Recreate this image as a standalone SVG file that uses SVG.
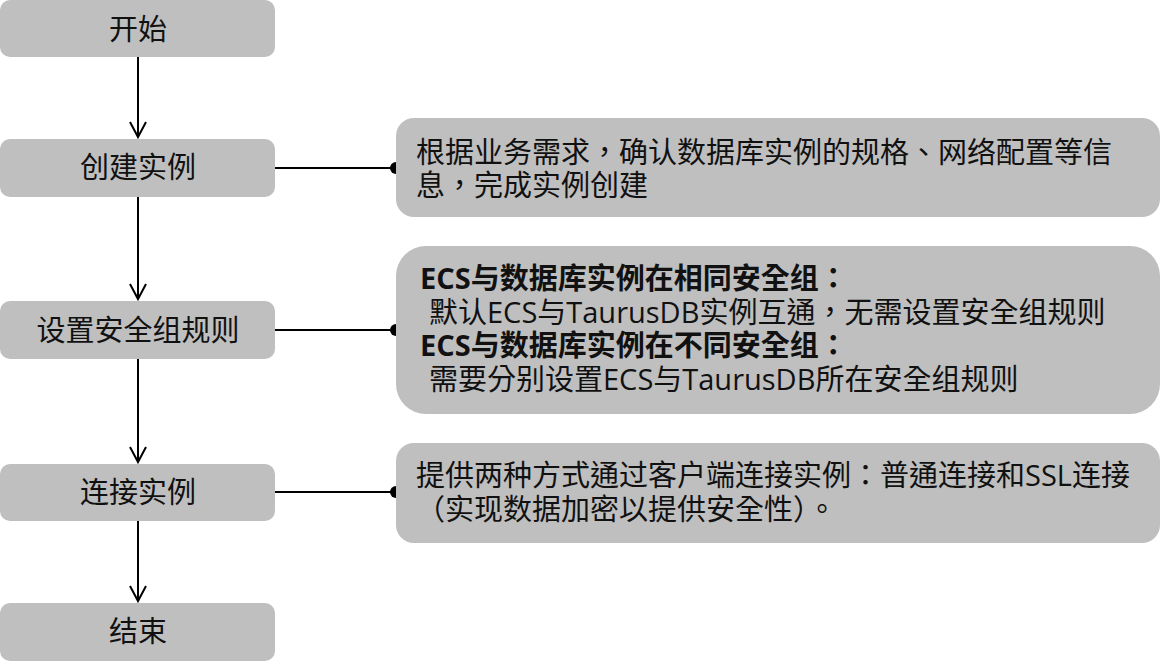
<svg xmlns="http://www.w3.org/2000/svg" width="1161" height="661" viewBox="0 0 1161 661">
  <style>
    .box { fill: #bfbfbf; }
    .lbl { font-family: "Open Sans", "Noto Sans CJK SC", sans-serif; font-size: 29px; fill: #111; }
    .n { font-family: "Open Sans", "Noto Sans CJK TC", sans-serif; }
    .c { text-anchor: middle; }
    .b { font-weight: bold; }
    .ln { stroke: #000; stroke-width: 2; fill: none; }
  </style>
  <defs>
    <marker id="arr" markerUnits="userSpaceOnUse" markerWidth="20" markerHeight="20" viewBox="-10 -17 20 20" refX="0" refY="0" orient="auto-start-reverse" overflow="visible">
      <path d="M -8,-15 L 0,0 L 8,-15" transform="rotate(-90)" fill="none" stroke="#000" stroke-width="2"/>
    </marker>
  </defs>

  <g id="connectors">
    <line class="ln" x1="138" y1="57" x2="138" y2="137" marker-end="url(#arr)"/>
    <line class="ln" x1="138" y1="197" x2="138" y2="299" marker-end="url(#arr)"/>
    <line class="ln" x1="138" y1="359" x2="138" y2="462" marker-end="url(#arr)"/>
    <line class="ln" x1="138" y1="521" x2="138" y2="601" marker-end="url(#arr)"/>
    <line class="ln" x1="275" y1="168" x2="396" y2="168"/>
    <circle cx="396" cy="168" r="6" fill="#000"/>
    <line class="ln" x1="275" y1="330" x2="396" y2="330"/>
    <circle cx="396" cy="330" r="6" fill="#000"/>
    <line class="ln" x1="275" y1="492" x2="396" y2="492"/>
    <circle cx="396" cy="492" r="6" fill="#000"/>
  </g>

  <g id="start">
    <rect class="box" x="0" y="0" width="275" height="57" rx="10"/>
    <text class="lbl c" x="138" y="40">开始</text>
  </g>
  <g id="create">
    <rect class="box" x="0" y="139" width="275" height="58" rx="10"/>
    <text class="lbl c" x="138" y="178">创建实例</text>
  </g>
  <g id="security">
    <rect class="box" x="0" y="301" width="275" height="58" rx="10"/>
    <text class="lbl c" x="138" y="341">设置安全组规则</text>
  </g>
  <g id="connect">
    <rect class="box" x="0" y="464" width="275" height="57" rx="10"/>
    <text class="lbl c" x="138" y="503">连接实例</text>
  </g>
  <g id="end">
    <rect class="box" x="0" y="603" width="275" height="58" rx="10"/>
    <text class="lbl c" x="138" y="642">结束</text>
  </g>

  <g id="note-create">
    <rect class="box" x="396" y="118" width="764" height="99" rx="18"/>
    <text class="lbl n" x="416" y="163">根据业务需求，确认数据库实例的规格、网络配置等信</text>
    <text class="lbl n" x="416" y="196">息，完成实例创建</text>
  </g>
  <g id="note-security">
    <rect class="box" x="396" y="246" width="764" height="168" rx="30"/>
    <text class="lbl n b" x="420" y="289">ECS与数据库实例在相同安全组：</text>
    <text class="lbl n" x="429" y="323">默认ECS与TaurusDB实例互通，无需设置安全组规则</text>
    <text class="lbl n b" x="420" y="356">ECS与数据库实例在不同安全组：</text>
    <text class="lbl n" x="429" y="390">需要分别设置ECS与TaurusDB所在安全组规则</text>
  </g>
  <g id="note-connect">
    <rect class="box" x="396" y="443" width="764" height="100" rx="18"/>
    <text class="lbl n" x="416" y="486">提供两种方式通过客户端连接实例：普通连接和SSL连接</text>
    <text class="lbl n" x="416" y="520">（实现数据加密以提供安全性）。</text>
  </g>
</svg>
